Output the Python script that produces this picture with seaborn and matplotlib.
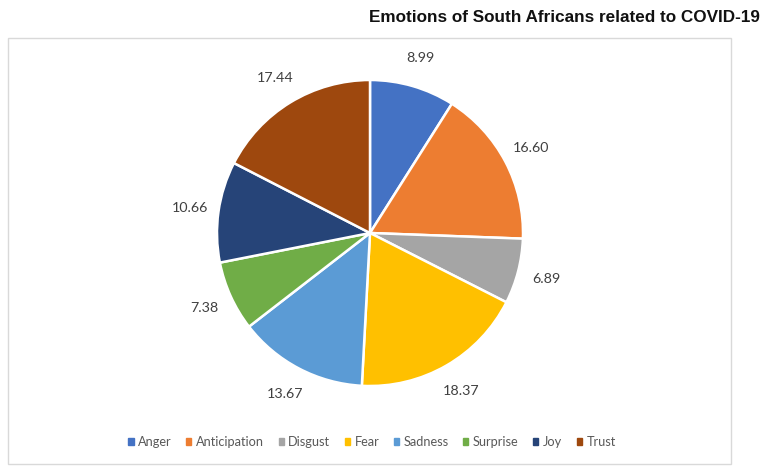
import matplotlib.pyplot as plt
import matplotlib.patches as mpatches
import seaborn as sns

emotions = ["Anger", "Anticipation", "Disgust", "Fear", "Sadness", "Surprise", "Joy", "Trust"]
shares = [8.99, 16.60, 6.89, 18.37, 13.67, 7.38, 10.66, 17.44]
colors = ["#4472C4", "#ED7D31", "#A5A5A5", "#FFC000", "#5B9BD5", "#70AD47", "#264478", "#9E480E"]

sns.set_theme(style="white")
plt.rcParams['font.family'] = ['Lato', 'DejaVu Sans']

fig = plt.figure(figsize=(7.68, 4.75), dpi=100)

# chart frame
frame = mpatches.Rectangle((8/768, 1 - 464/475), 723/768, (464 - 38)/475,
                           transform=fig.transFigure, fill=False,
                           edgecolor="#D9D9D9", linewidth=1.0)
fig.patches.append(frame)

fig.text(760/768, 1 - 17/475, "Emotions of South Africans related to COVID-19",
         ha="right", va="center", fontsize=12.3, fontweight="bold",
         family=["Liberation Sans", "DejaVu Sans"], color="#111111")

r = 153
cx, cy = 370, 233
ax = fig.add_axes([(cx - r) / 768, 1 - (cy + r) / 475, 2 * r / 768, 2 * r / 475])
wedges, texts = ax.pie(shares, colors=colors, startangle=90, counterclock=False,
                       labels=[f"{v:.2f}" for v in shares], labeldistance=1.19,
                       wedgeprops=dict(edgecolor="white", linewidth=1.8),
                       textprops=dict(fontsize=10.3, color="#404040"))
for t in texts:
    t.set_ha("center")
    t.set_va("center")
ax.set_xlim(-1, 1)
ax.set_ylim(-1, 1)
ax.set_aspect("equal")

handles = [mpatches.Patch(color=c, label=e) for c, e in zip(colors, emotions)]
fig.legend(handles=handles, loc="center", bbox_to_anchor=(372/768, 1 - 442/475),
           ncol=8, frameon=False, fontsize=9.2, handlelength=0.4, handleheight=0.4,
           handletextpad=0.35, columnspacing=1.15, labelcolor="#595959")

fig.savefig("out.png", dpi=100)
